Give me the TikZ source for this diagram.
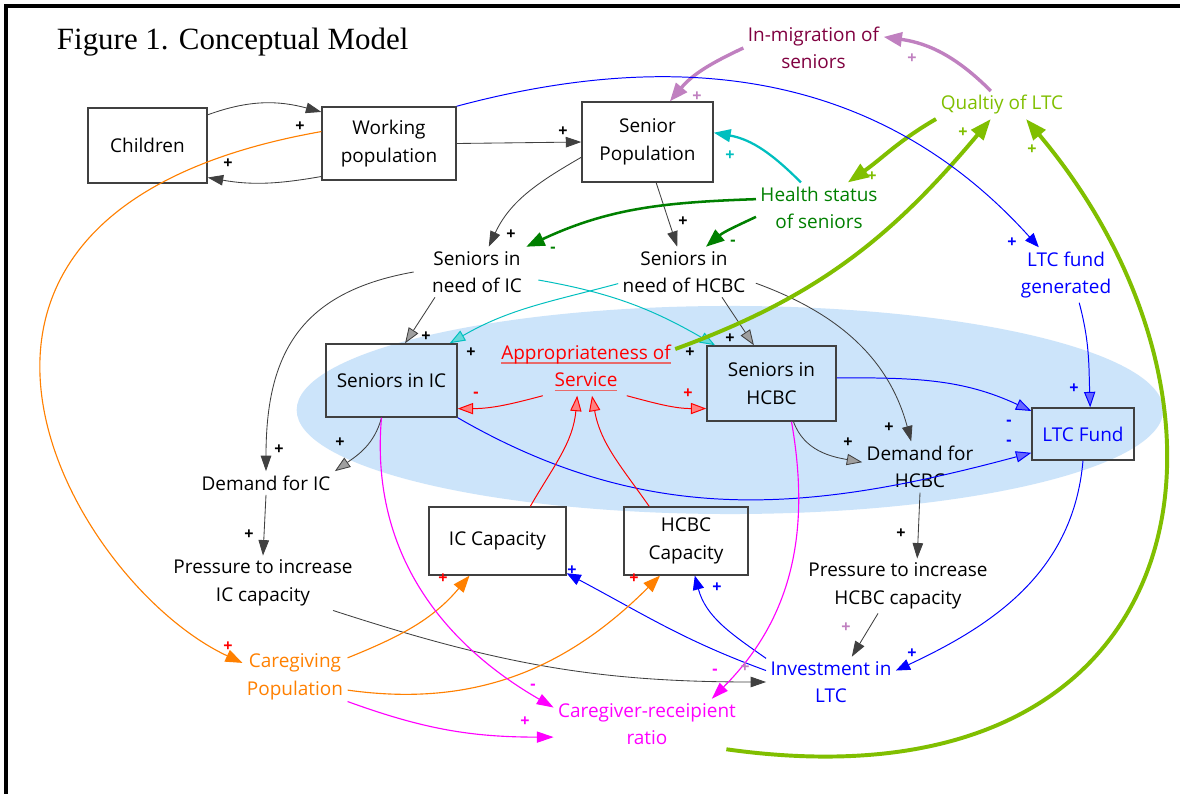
\documentclass[tikz,border=0pt]{standalone}
\usepackage{fontspec}
\setmainfont{Open Sans}
\newfontfamily\titlefont{Liberation Serif}
\usetikzlibrary{arrows.meta}

\definecolor{boxgray}{HTML}{404040}
\definecolor{ellcol}{HTML}{CCE4FA}
\definecolor{migcol}{HTML}{800040}
\definecolor{ygreen}{HTML}{80BF00}
\definecolor{hgreen}{HTML}{008000}
\definecolor{lpurple}{HTML}{C080C0}
\definecolor{tealc}{HTML}{00BFBF}
\definecolor{orangec}{HTML}{FF8000}
\definecolor{magentac}{HTML}{FF00FF}
\definecolor{ulred}{HTML}{E86A6A}

\newcommand{\apul}[1]{\setbox0\hbox{#1}\rlap{\color{ulred}\rule[-3.2pt]{\wd0}{1.1pt}}\box0}

\begin{document}
\begin{tikzpicture}[x=0.025cm, y=0.025cm,
    font=\fontsize{13.5}{19.5}\selectfont,
    box/.style={draw=boxgray, line width=0.9pt, align=center, inner sep=2pt},
    lbl/.style={align=center, inner sep=3pt},
    sgn/.style={font=\fontsize{11.5}{13}\selectfont\bfseries, inner sep=0pt},
    gline/.style={draw=boxgray, line width=0.6pt, -{Triangle[length=11pt,width=7.5pt]}},
    gfill/.style={draw=boxgray, line width=0.6pt, -{Triangle[length=11pt,width=8pt,fill=gray!75]}},
    pline/.style={draw=lpurple, line width=2.4pt, -{Triangle[length=13pt,width=10pt]}},
    tline/.style={draw=tealc, line width=0.7pt, -{Triangle[length=11pt,width=8pt,fill=tealc!60]}},
    tthick/.style={draw=tealc, line width=1.6pt, -{Triangle[length=12pt,width=9pt]}},
    hline/.style={draw=hgreen, line width=1.8pt, -{Triangle[length=13pt,width=10pt]}},
    yline/.style={draw=ygreen, line width=2.8pt, -{Triangle[length=15pt,width=11pt]}},
    bline/.style={draw=blue, line width=0.7pt, -{Triangle[length=10pt,width=8pt]}},
    bfill/.style={draw=blue, line width=0.7pt, -{Triangle[length=11pt,width=8pt,fill=blue!60]}},
    oline/.style={draw=orangec, line width=0.8pt, -{Triangle[length=12pt,width=9pt]}},
    mline/.style={draw=magentac, line width=0.8pt, -{Triangle[length=12pt,width=8pt]}},
    rfill/.style={draw=red, line width=0.7pt, -{Triangle[length=11pt,width=8pt,fill=red!50]}}]
    \useasboundingbox (0,0) rectangle (1180,-794);
    \fill[white] (0,0) rectangle (1180,-794);
    \fill[ellcol] (730,-410) ellipse [x radius=10.83cm, y radius=2.6cm];
    \draw[line width=2.2pt] (6,-794) -- (6,-6) -- (1180,-6);
    \node[anchor=base west, font=\titlefont\fontsize{22}{26}\selectfont] (title) at (52,-50) {Figure 1. Conceptual Model};

    \node[box, minimum width=2.98cm, minimum height=1.88cm] (children) at (147.5,-145.5) {Children};
    \node[box, minimum width=3.35cm, minimum height=1.83cm] (working) at (389,-143.5) {Working\\population};
    \node[box, minimum width=3.28cm, minimum height=2cm] (senior) at (647.5,-142) {Senior\\Population};
    \node[lbl, text=migcol] (migr) at (813.5,-48) {In-migration of\\seniors};
    \node[lbl, text=ygreen] (quality) at (1002,-105) {Qualtiy of LTC};
    \node[lbl, text=hgreen] (health) at (819,-208) {Health status\\of seniors};
    \node[lbl] (needIC) at (477,-272) {Seniors in\\need of IC};
    \node[lbl] (needHCBC) at (684,-272) {Seniors in\\need of HCBC};
    \node[lbl, text=blue] (fundgen) at (1066,-275) {LTC fund\\generated};
    \node[box, minimum width=3.28cm, minimum height=1.83cm] (inIC) at (391.5,-380.5) {Seniors in IC};
    \node[lbl, text=red] (approp) at (586,-368) {\apul{Appropriateness of}\\\apul{Service}};
    \node[box, minimum width=3.23cm, minimum height=1.88cm] (inHCBC) at (771.5,-383.5) {Seniors in\\HCBC};
    \node[box, text=blue, minimum width=2.55cm, minimum height=1.3cm] (fund) at (1083,-434) {LTC Fund};
    \node[lbl] (demIC) at (266,-483) {Demand for IC};
    \node[lbl] (demHCBC) at (920,-467) {Demand for\\HCBC};
    \node[box, minimum width=3.43cm, minimum height=1.7cm] (capIC) at (497.5,-541) {IC Capacity};
    \node[box, minimum width=3.1cm, minimum height=1.7cm] (capHCBC) at (686,-541) {HCBC\\Capacity};
    \node[lbl] (presIC) at (263,-583) {Pressure to increase\\IC capacity};
    \node[lbl] (presHCBC) at (898,-586) {Pressure to increase\\HCBC capacity};
    \node[lbl, text=orangec] (care) at (295,-677) {Caregiving\\Population};
    \node[lbl, text=blue] (invest) at (831,-682) {Investment in\\LTC};
    \node[lbl, text=magentac] (ratio) at (647,-724) {Caregiver-receipient\\ratio};

    \draw[gline] (children.27) to[out=20,in=165] (working.155);
    \draw[gline] (working.206) to[out=190,in=-10] (children.-28);
    \draw[gline] (working.east) -- (senior.west);
    \draw[gline] (senior.193) to[out=210,in=65] (needIC.65);
    \draw[gline] (senior.-78) -- (needHCBC.105);
    \draw[gfill] ([xshift=-1.05cm]needIC.south) -- ([xshift=0.34cm]inIC.north);
    \draw[gfill] ([xshift=0.95cm]needHCBC.south) -- ([xshift=-0.44cm]inHCBC.north);
    \draw[gline] ([xshift=-0.35cm]needIC.west) to[out=190,in=90,looseness=1.2] (demIC.north);
    \draw[gline] ([xshift=0.15cm,yshift=-0.28cm]needHCBC.east) to[out=-20,in=105] ([xshift=-0.22cm]demHCBC.north);
    \draw[gfill] ([xshift=-0.25cm]inIC.south) to[out=-105,in=35] (demIC.north east);
    \draw[gfill] ([xshift=0.55cm]inHCBC.south) to[out=-70,in=170] ([yshift=0.12cm]demHCBC.west);
    \draw[gline] (demIC.south) -- (presIC.north);
    \draw[gline] (demHCBC.south) -- ([xshift=0.48cm]presHCBC.north);
    \draw[gline] ([xshift=-0.6cm]presIC.south east) to[out=-18,in=180] (invest.west);
    \draw[gline] ([xshift=-0.5cm]presHCBC.south) -- ([xshift=0.52cm]invest.north);

    \draw[pline] ([xshift=-0.28cm]quality.north) to[out=135,in=-8] (migr.9);
    \draw[pline] (migr.west) to[out=205,in=50] ([xshift=0.56cm]senior.north);

    \draw[tthick] ([xshift=-0.45cm]health.north) to[out=135,in=-10] (senior.8);
    \draw[tline] (needHCBC.190) to[out=195,in=30] ([xshift=-0.2cm]inIC.north east);
    \draw[tline] ([xshift=0.3cm,yshift=-0.2cm]needIC.east) to[out=-10,in=150] ([xshift=0.22cm]inHCBC.north west);

    \draw[hline] (health.172) to[out=182,in=25] (needIC.north east);
    \draw[hline] (health.188) to[out=205,in=40] ([xshift=0.55cm]needHCBC.north);

    \draw[yline] ([xshift=-1.65cm]quality.south) to[out=210,in=35] ([xshift=0.72cm]health.north);
    \draw[yline] (approp.12) to[out=20,in=-130] ([xshift=-0.28cm]quality.south);
    \draw[yline] ([xshift=-0.35cm]ratio.south east) .. controls +(-8:480) and +(-50:380) .. ([xshift=0.6cm]quality.south);

    \draw[bline] (working.north east) to[out=15,in=132] ([xshift=-0.68cm]fundgen.north);
    \draw[bfill] (inHCBC.5) to[out=0,in=155] (fund.156);
    \draw[bfill] (inIC.south east) to[out=-30,in=195] (fund.200);
    \draw[bfill] ([xshift=0.33cm]fundgen.south) to[out=-75,in=92] ([xshift=0.18cm]fund.north);
    \draw[bline] (fund.south) to[out=-95,in=25] (invest.10);
    \draw[bline] (invest.160) to[out=145,in=-75] ([xshift=0.22cm]capHCBC.south);
    \draw[bline] (invest.170) to[out=160,in=-28] (capIC.-25);

    \draw[oline] (working.170) .. controls +(190:470) and +(155:190) .. (care.165);
    \draw[oline] (care.20) to[out=22,in=-130] ([xshift=-0.7cm]capIC.south);
    \draw[oline] (care.-14) to[out=-8,in=-135] ([xshift=-0.65cm]capHCBC.south);

    \draw[mline] ([xshift=-0.25cm]inIC.south) to[out=-95,in=150] (ratio.170);
    \draw[mline] (care.-25) to[out=-20,in=180] (ratio.188);
    \draw[mline] ([xshift=0.5cm]inHCBC.south) to[out=-80,in=45] ([xshift=1.62cm]ratio.north);

    \draw[rfill] ([xshift=-1.08cm]approp.south) to[out=195,in=0] (inIC.-23);
    \draw[rfill] ([xshift=1.02cm]approp.south) to[out=-15,in=180] (inHCBC.201);
    \draw[rfill] ([xshift=0.82cm]capIC.north) to[out=60,in=-95] ([xshift=-0.22cm]approp.south);
    \draw[rfill] ([xshift=-0.92cm]capHCBC.north) to[out=125,in=-80] ([xshift=0.15cm]approp.south);

    \node[sgn] (sg1) at (300,-127) {+};
    \node[sgn] (sg2) at (228,-164) {+};
    \node[sgn] (sg3) at (563,-132) {+};
    \node[sgn] (sg4) at (511,-235) {+};
    \node[sgn] (sg5) at (683,-222) {+};
    \node[sgn] (sg6) at (426,-337) {+};
    \node[sgn] (sg7) at (730,-339) {+};
    \node[sgn] (sg8) at (471,-353) {+};
    \node[sgn] (sg9) at (690,-353) {+};
    \node[sgn] (sg10) at (279,-450) {+};
    \node[sgn] (sg11) at (340,-443) {+};
    \node[sgn] (sg12) at (889,-428) {+};
    \node[sgn] (sg13) at (848,-443) {+};
    \node[sgn] (sg14) at (249,-535) {+};
    \node[sgn] (sg15) at (901,-534) {+};
    \node[sgn, text=lpurple] (sg16) at (745,-668) {+};
    \node[sgn, text=lpurple] (sg17) at (846,-628) {+};
    \node[sgn, text=lpurple] (sg18) at (912,-59) {+};
    \node[sgn, text=lpurple] (sg19) at (697,-97) {+};
    \node[sgn, text=tealc] (sg20) at (730,-156) {+};
    \node[sgn, text=hgreen] (sg21) at (553,-250) {-};
    \node[sgn, text=hgreen] (sg22) at (733,-243) {-};
    \node[sgn, text=ygreen] (sg23) at (872,-177) {+};
    \node[sgn, text=ygreen] (sg24) at (963,-133) {+};
    \node[sgn, text=ygreen] (sg25) at (1032,-150) {+};
    \node[sgn, text=blue] (sg26) at (1012,-243) {+};
    \node[sgn, text=blue] (sg27) at (1074,-389) {+};
    \node[sgn, text=blue] (sg28) at (912,-654) {+};
    \node[sgn, text=blue] (sg29) at (717,-588) {+};
    \node[sgn, text=blue] (sg30) at (572,-571) {+};
    \node[sgn, text=blue] (sg31) at (1009,-423) {-};
    \node[sgn, text=blue] (sg32) at (1009,-443) {-};
    \node[sgn, text=red] (sg33) at (228,-647) {+};
    \node[sgn, text=red] (sg34) at (443,-579) {+};
    \node[sgn, text=red] (sg35) at (634,-579) {+};
    \node[sgn, text=red] (sg36) at (688,-394) {+};
    \node[sgn, text=red] (sg37) at (476,-395) {-};
    \node[sgn, text=magentac] (sg38) at (533,-687) {-};
    \node[sgn, text=magentac] (sg39) at (525,-722) {+};
    \node[sgn, text=magentac] (sg40) at (715,-672) {-};
\end{tikzpicture}
\end{document}
